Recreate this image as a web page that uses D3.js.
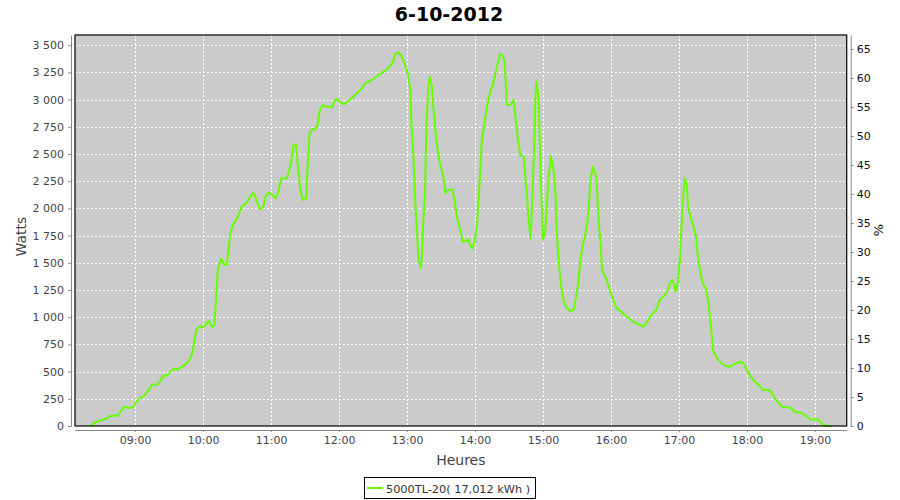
<!DOCTYPE html>
<html>
<head>
<meta charset="utf-8">
<script src="https://cdn.jsdelivr.net/npm/d3@7"></script>
<style>
  html, body { margin: 0; padding: 0; background: #fff; }
  svg { display: block; font-family: "DejaVu Sans", sans-serif; }
</style>
</head>
<body>
<svg id="chart" width="900" height="500"></svg>
<script>
// ---- data ----
const chartTitle = "6-10-2012";
const seriesName = "5000TL-20( 17,012 kWh )";
const times = ["08:20","08:25","08:35","08:38","08:45","08:49","08:52","08:54","08:58","09:01",
"09:04","09:08","09:12","09:15","09:20","09:25","09:29","09:33","09:37","09:41",
"09:47","09:50","09:52","09:54","09:57","10:00","10:05","10:08","10:10","10:11",
"10:13","10:16","10:19","10:21","10:24","10:27","10:30","10:34","10:39","10:43",
"10:45","10:47","10:50","10:53","10:55","10:58","11:01","11:04","11:06","11:09",
"11:14","11:17","11:20","11:22","11:24","11:26","11:28","11:31","11:32","11:34",
"11:36","11:39","11:41","11:43","11:46","11:49","11:54","11:56","11:59","12:02",
"12:05","12:10","12:14","12:19","12:23","12:29","12:33","12:38","12:42","12:47",
"12:50","12:53","12:56","12:59","13:01","13:03","13:04","13:06","13:07","13:09",
"13:10","13:12","13:13","13:14","13:16","13:17","13:19","13:20","13:22","13:23",
"13:25","13:27","13:29","13:32","13:34","13:36","13:40","13:42","13:44","13:47",
"13:49","13:52","13:54","13:56","13:58","14:00","14:02","14:04","14:06","14:08",
"14:10","14:13","14:16","14:18","14:20","14:22","14:24","14:26","14:27","14:28",
"14:31","14:34","14:35","14:37","14:38","14:40","14:43","14:44","14:46","14:47",
"14:49","14:50","14:52","14:53","14:54","14:56","14:57","14:58","14:59","15:00",
"15:02","15:03","15:05","15:07","15:09","15:11","15:12","15:14","15:16","15:18",
"15:21","15:24","15:27","15:29","15:31","15:33","15:35","15:37","15:39","15:41",
"15:42","15:44","15:45","15:47","15:48","15:49","15:51","15:52","15:55","15:57",
"15:59","16:02","16:05","16:08","16:12","16:17","16:21","16:26","16:29","16:32",
"16:36","16:40","16:43","16:46","16:49","16:52","16:54","16:56","16:57","16:59",
"17:01","17:02","17:04","17:05","17:07","17:08","17:10","17:13","17:15","17:17",
"17:19","17:21","17:24","17:26","17:27","17:29","17:30","17:33","17:36","17:41",
"17:45","17:49","17:54","17:57","18:00","18:03","18:07","18:12","18:14","18:20",
"18:23","18:26","18:31","18:37","18:39","18:42","18:48","18:53","18:57","19:02",
"19:04","19:07","19:12","19:15"];
const watts = [0,34,70,95,95,163,178,165,172,223,
254,276,331,380,380,460,469,521,521,540,
591,652,760,882,919,907,968,913,928,1082,
1434,1541,1480,1480,1771,1863,1909,2015,2056,2132,
2139,2077,1994,2010,2107,2148,2123,2093,2139,2277,
2277,2383,2589,2583,2353,2169,2077,2093,2323,2690,
2727,2727,2766,2904,2950,2934,2934,2990,3005,2966,
2959,3002,3042,3088,3149,3180,3210,3250,3272,3333,
3425,3431,3379,3302,3226,3088,2751,2414,2107,1740,
1556,1449,1526,1801,2169,2751,3134,3210,3118,2966,
2720,2537,2414,2291,2139,2169,2175,2077,1923,1801,
1694,1703,1716,1654,1633,1709,1893,2230,2628,2751,
2904,3057,3149,3241,3333,3419,3409,3364,3180,2950,
2950,2996,2904,2720,2628,2490,2475,2322,2107,1923,
1725,1923,2506,2934,3164,3026,2690,2261,1985,1709,
1801,1985,2291,2481,2383,2139,1801,1495,1280,1158,
1082,1057,1066,1174,1311,1526,1663,1740,1863,2107,
2276,2383,2353,2291,2107,1893,1648,1434,1372,1311,
1250,1158,1082,1060,1020,981,949,928,913,959,
1027,1066,1158,1189,1220,1311,1342,1296,1235,1311,
1556,1801,2139,2276,2215,2015,1923,1832,1740,1526,
1403,1311,1250,1128,1036,821,698,637,591,551,
545,570,591,576,515,460,407,361,331,331,
285,233,177,172,163,131,122,85,55,62,
49,9,0,0];
const xDomain = ["08:07", "19:28"];
const wattTicks = [0,250,500,750,1000,1250,1500,1750,2000,2250,2500,2750,3000,3250,3500];
const pctTicks = [0,5,10,15,20,25,30,35,40,45,50,55,60,65];
const wattMax = 3594;
const pctMax = 67.4;
const xLabel = "Heures", yLabel = "Watts", y2Label = "%";

// ---- layout ----
const svg = d3.select("#chart");
const L = 75, T = 35, R = 846.7, B = 426;
const day = "2012-10-06 ";
const parse = d3.timeParse("%Y-%m-%d %H:%M");
const data = times.map((t, i) => ({ t: parse(day + t), w: watts[i] }));

const x = d3.scaleTime().domain(xDomain.map(t => parse(day + t))).range([L, R]);
const y = d3.scaleLinear().domain([0, wattMax]).range([B, T]);
const y2 = d3.scaleLinear().domain([0, pctMax]).range([B, T]);

const fr = d3.formatLocale({ decimal: ",", thousands: " ", grouping: [3], currency: ["", " €"] });
const fmt = fr.format(",");

// plot background
svg.append("rect").attr("x", L).attr("y", T).attr("width", R - L).attr("height", B - T)
  .attr("fill", "#cbcbcb");

// gridlines
const hours = d3.timeHour.every(1).range(x.domain()[0], x.domain()[1]);
svg.append("g").selectAll("line").data(hours).join("line")
  .attr("x1", d => Math.round(x(d)) + 0.5).attr("x2", d => Math.round(x(d)) + 0.5)
  .attr("y1", T).attr("y2", B)
  .attr("stroke", "#fff").attr("stroke-width", 1).attr("stroke-dasharray", "2,2");
svg.append("g").selectAll("line").data(wattTicks.filter(d => d > 0)).join("line")
  .attr("y1", d => Math.round(y(d)) + 0.5).attr("y2", d => Math.round(y(d)) + 0.5)
  .attr("x1", L).attr("x2", R)
  .attr("stroke", "#fff").attr("stroke-width", 1).attr("stroke-dasharray", "2,2");

// line
svg.append("path").datum(data)
  .attr("fill", "none").attr("stroke", "#66ff00").attr("stroke-width", 2)
  .attr("stroke-linejoin", "round")
  .attr("d", d3.line().x(d => x(d.t)).y(d => y(d.w)));

// plot outline
svg.append("rect").attr("x", L).attr("y", T).attr("width", R - L).attr("height", B - T)
  .attr("fill", "none").attr("stroke", "#000").attr("stroke-width", 1.2);

// axes
function styleAxis(g, color) {
  g.select(".domain").attr("stroke", "#888");
  g.selectAll(".tick line").attr("stroke", "#888");
  g.selectAll(".tick text").attr("fill", color).style("font-size", "11px")
    .style("font-family", "DejaVu Sans, sans-serif");
}
const xAxis = svg.append("g").attr("transform", `translate(0,${B + 4})`)
  .call(d3.axisBottom(x).ticks(d3.timeHour.every(1)).tickFormat(d3.timeFormat("%H:%M"))
    .tickSizeInner(2).tickSizeOuter(0).tickPadding(4));
styleAxis(xAxis, "#444");

const yAxis = svg.append("g").attr("transform", `translate(${L - 4},0)`)
  .call(d3.axisLeft(y).tickValues(wattTicks).tickFormat(fmt)
    .tickSizeInner(3).tickSizeOuter(0).tickPadding(4));
styleAxis(yAxis, "#444");

const y2Axis = svg.append("g").attr("transform", `translate(${R + 4},0)`)
  .call(d3.axisRight(y2).tickValues(pctTicks)
    .tickSizeInner(3).tickSizeOuter(0).tickPadding(3));
styleAxis(y2Axis, "#111");

// labels
svg.append("text").attr("x", 449).attr("y", 21).attr("text-anchor", "middle")
  .style("font-size", "19px").style("font-weight", "bold").attr("fill", "#000").text(chartTitle);
svg.append("text").attr("x", (L + R) / 2).attr("y", 465).attr("text-anchor", "middle")
  .style("font-size", "14px").attr("fill", "#444").text(xLabel);
svg.append("text").attr("transform", `translate(26,${(T + B) / 2 + 6}) rotate(-90)`)
  .attr("text-anchor", "middle").style("font-size", "14px").attr("fill", "#444").text(yLabel);
svg.append("text").attr("transform", `translate(883,230) rotate(-90)`)
  .attr("text-anchor", "middle").style("font-size", "13px").attr("fill", "#111").text(y2Label);

// legend
const lg = svg.append("g");
lg.append("rect").attr("x", 364.5).attr("y", 477.5).attr("width", 171).attr("height", 21)
  .attr("fill", "#fff").attr("stroke", "#000").attr("stroke-width", 1);
lg.append("line").attr("x1", 367).attr("x2", 383).attr("y1", 488).attr("y2", 488)
  .attr("stroke", "#66ff00").attr("stroke-width", 2);
lg.append("text").attr("x", 386).attr("y", 492.5).style("font-size", "11.3px")
  .attr("fill", "#333").text(seriesName);
</script>
</body>
</html>
